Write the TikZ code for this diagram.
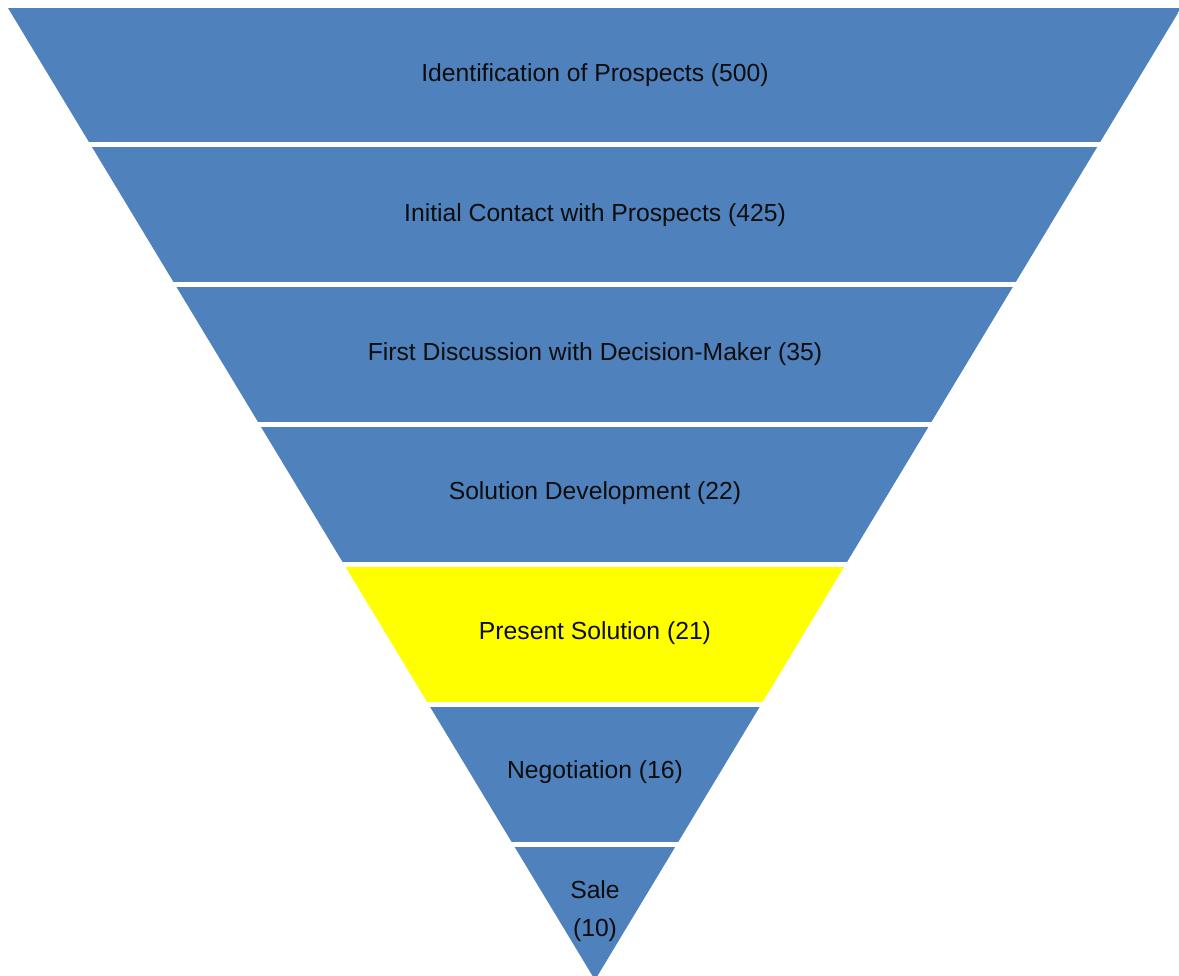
\documentclass[tikz,border=0pt]{standalone}
\usepackage{fontspec}
\setmainfont{Liberation Sans}
\definecolor{funnelblue}{RGB}{79,129,189}
\definecolor{funnelyellow}{RGB}{255,255,0}
\begin{document}
\begin{tikzpicture}[x=1pt,y=-1pt,
  stagetext/.style={font=\fontsize{24.7}{38}\selectfont,align=center,text=black!95}]
\useasboundingbox (0,0) rectangle (1179,976);
\begin{scope}
\clip (8,8) -- (1181,8) -- (595,980) -- cycle;
\fill[funnelblue] (0,8) rectangle (1179,142);
\fill[funnelblue] (0,147) rectangle (1179,282);
\fill[funnelblue] (0,287) rectangle (1179,422);
\fill[funnelblue] (0,427) rectangle (1179,562);
\fill[funnelyellow] (0,567) rectangle (1179,702);
\fill[funnelblue] (0,707) rectangle (1179,842);
\fill[funnelblue] (0,847) rectangle (1179,980);
\end{scope}
\node[stagetext] (identification) at (595,75) {Identification of Prospects (500)};
\node[stagetext] (contact) at (595,215) {Initial Contact with Prospects (425)};
\node[stagetext] (discussion) at (595,354) {First Discussion with Decision-Maker (35)};
\node[stagetext] (development) at (595,493) {Solution Development (22)};
\node[stagetext] (present) at (595,633) {Present Solution (21)};
\node[stagetext] (negotiation) at (595,772) {Negotiation (16)};
\node[stagetext] (sale) at (595,911) {Sale\\(10)};
\end{tikzpicture}
\end{document}
